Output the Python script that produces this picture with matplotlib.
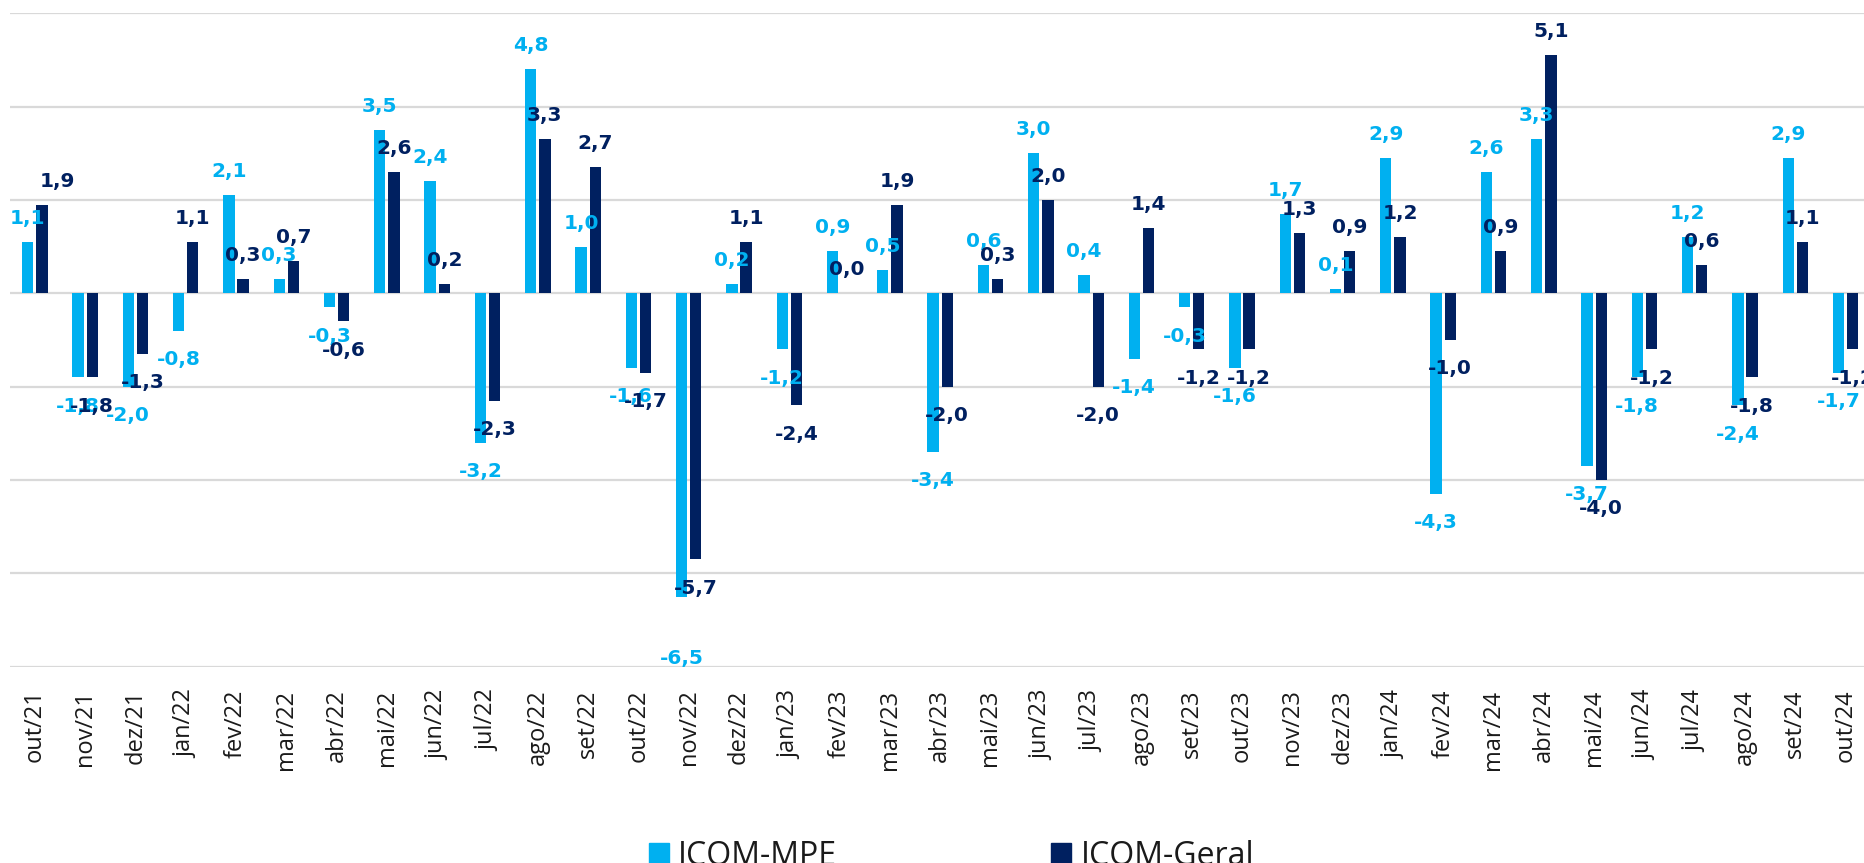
import numpy as np
import matplotlib
matplotlib.use('Agg')
import matplotlib.pyplot as plt
from matplotlib.patches import Patch

meses = ['out/21', 'nov/21', 'dez/21', 'jan/22', 'fev/22', 'mar/22', 'abr/22', 'mai/22',
         'jun/22', 'jul/22', 'ago/22', 'set/22', 'out/22', 'nov/22', 'dez/22', 'jan/23',
         'fev/23', 'mar/23', 'abr/23', 'mai/23', 'jun/23', 'jul/23', 'ago/23', 'set/23',
         'out/23', 'nov/23', 'dez/23', 'jan/24', 'fev/24', 'mar/24', 'abr/24', 'mai/24',
         'jun/24', 'jul/24', 'ago/24', 'set/24', 'out/24']
icom_mpe = [1.1, -1.8, -2.0, -0.8, 2.1, 0.3, -0.3, 3.5, 2.4, -3.2, 4.8, 1.0, -1.6, -6.5,
            0.2, -1.2, 0.9, 0.5, -3.4, 0.6, 3.0, 0.4, -1.4, -0.3, -1.6, 1.7, 0.1, 2.9,
            -4.3, 2.6, 3.3, -3.7, -1.8, 1.2, -2.4, 2.9, -1.7]
icom_geral = [1.9, -1.8, -1.3, 1.1, 0.3, 0.7, -0.6, 2.6, 0.2, -2.3, 3.3, 2.7, -1.7, -5.7,
              1.1, -2.4, 0.0, 1.9, -2.0, 0.3, 2.0, -2.0, 1.4, -1.2, -1.2, 1.3, 0.9, 1.2,
              -1.0, 0.9, 5.1, -4.0, -1.2, 0.6, -1.8, 1.1, -1.2]

cor_mpe = '#00B0F0'
cor_geral = '#002060'

# rotulos que o original deslocou (serie, indice) -> (dx, dy) em pontos
ajustes = {('geral', 0): (11.5, 0), ('mpe', 13): (0, -24)}

W, H = 1864, 863
fig = plt.figure(figsize=(W / 100, H / 100), dpi=100)
ax = fig.add_axes([10 / W, 1 - 666.6 / H, 1854 / W, (666.6 - 13.3) / H])

x = np.arange(len(meses))
largura = 0.225
desloc = 0.141

ax.bar(x - desloc, icom_mpe, largura, color=cor_mpe, zorder=3)
ax.bar(x + desloc, icom_geral, largura, color=cor_geral, zorder=3)


def rotular(nome, xs, vals, cor):
    for i, (xi, v) in enumerate(zip(xs, vals)):
        txt = f'{v:.1f}'.replace('.', ',')
        dx, dy = ajustes.get((nome, i), (0, 0))
        if v >= 0:
            ax.annotate(txt, (xi, v), xytext=(dx, 10 + dy), textcoords='offset points',
                        ha='center', va='bottom', color=cor, fontsize=14.5,
                        fontweight='bold', annotation_clip=False, zorder=4)
        else:
            ax.annotate(txt, (xi, v), xytext=(dx, -14 + dy), textcoords='offset points',
                        ha='center', va='top', color=cor, fontsize=14.5,
                        fontweight='bold', annotation_clip=False, zorder=4)


rotular('mpe', x - desloc, icom_mpe, cor_mpe)
rotular('geral', x + desloc, icom_geral, cor_geral)

ax.set_xlim(-0.493, 36.366)
ax.set_ylim(-8, 6)
ax.set_yticks(np.arange(-8, 7, 2))
ax.yaxis.grid(True, color='#d9d9d9', linewidth=1.6, zorder=0)
ax.tick_params(axis='y', left=False, labelleft=False)
ax.tick_params(axis='x', length=0, pad=16.5)
ax.set_xticks(x)
ax.set_xticklabels(meses, rotation=90, fontsize=17, family='Open Sans', color='#1a1a1a')
for s in ax.spines.values():
    s.set_visible(False)

handles = [Patch(color=cor_mpe), Patch(color=cor_geral)]
fig.legend(handles, ['ICOM-MPE', 'ICOM-Geral'], loc='center', bbox_to_anchor=(0.5105, 0.008),
           ncol=2, frameon=False, prop={'family': 'Open Sans', 'size': 23},
           handlelength=0.63, handleheight=0.63, handletextpad=0.28, columnspacing=6.7,
           labelcolor='#1a1a1a')

fig.savefig('out.png', dpi=100)
